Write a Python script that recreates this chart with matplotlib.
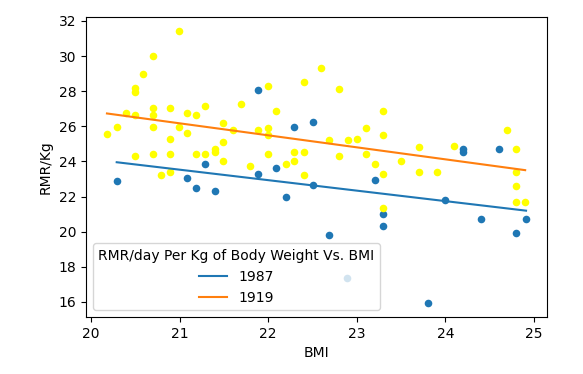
import matplotlib
matplotlib.use("Agg")
import matplotlib.pyplot as plt
import numpy as np

# 1987 data (blue)
bmi_1987 = [20.29, 21.08, 21.19, 21.29, 21.4, 21.89, 21.89, 22.09, 22.2, 22.29,
            22.5, 22.5, 22.69, 22.89, 23.2, 23.3, 23.3, 23.8, 24.0, 24.2,
            24.2, 24.4, 24.6, 24.8, 24.91]
rmr_1987 = [22.9, 23.06, 22.51, 23.86, 22.29, 28.09, 23.29, 23.62, 21.96, 25.96,
            26.27, 22.66, 19.83, 17.36, 22.96, 21.0, 20.3, 15.92, 21.8, 24.71,
            24.52, 20.7, 24.71, 19.94, 20.7]

# 1919 data (yellow)
bmi_1919 = [20.18, 20.29, 20.39, 20.5, 20.5, 20.5, 20.5, 20.59, 20.7, 20.7,
            20.7, 20.7, 20.7, 20.79, 20.89, 20.89, 20.89, 20.89, 20.99, 20.99,
            21.08, 21.08, 21.19, 21.19, 21.29, 21.29, 21.4, 21.4, 21.49, 21.49,
            21.49, 21.6, 21.69, 21.79, 21.89, 22.0, 22.0, 22.0, 22.0, 22.09,
            22.2, 22.29, 22.29, 22.4, 22.4, 22.4, 22.6, 22.69, 22.8, 22.8,
            22.9, 23.0, 23.1, 23.1, 23.2, 23.3, 23.3, 23.3, 23.3, 23.5,
            23.7, 23.7, 23.9, 24.1, 24.7, 24.8, 24.8, 24.8, 24.8, 24.9]
rmr_1919 = [25.55, 25.95, 26.75, 28.2, 27.95, 26.65, 24.3, 29.0, 30.0, 27.05,
            26.65, 25.95, 24.4, 23.25, 27.05, 25.3, 24.4, 23.4, 31.45, 25.95,
            26.75, 25.6, 26.65, 24.4, 27.15, 24.45, 24.7, 24.55, 26.2, 25.1,
            24.0, 25.8, 27.3, 23.75, 25.8, 28.3, 25.9, 25.5, 24.45, 26.85,
            23.85, 24.55, 24.0, 28.55, 24.55, 23.25, 29.3, 25.2, 28.1, 24.3,
            25.25, 25.3, 25.9, 24.45, 23.85, 26.85, 25.5, 23.3, 21.35, 24.05,
            24.8, 23.4, 23.4, 24.9, 25.8, 24.7, 23.4, 22.6, 21.7, 21.7]

fig = plt.figure(figsize=(5.83, 3.74), dpi=100)
ax = fig.add_axes([86/583, 1-317/374, (547-86)/583, (317-17)/374])

ax.scatter(bmi_1987, rmr_1987, s=30, color="#1f77b4", linewidths=0, zorder=2)
ax.scatter(bmi_1919, rmr_1919, s=30, color="yellow", linewidths=0, zorder=2)

for xs, ys, lab, col in [(bmi_1987, rmr_1987, "1987", "C0"), (bmi_1919, rmr_1919, "1919", "C1")]:
    xs = np.array(xs); ys = np.array(ys)
    m, b = np.polyfit(xs, ys, 1)
    xl = np.array([xs.min(), xs.max()])
    ax.plot(xl, m*xl + b, color=col, label=lab, zorder=3)

ax.set_xlabel("BMI")
ax.set_ylabel("RMR/Kg")
ax.set_xticks([20, 21, 22, 23, 24, 25])
ax.set_yticks([16, 18, 20, 22, 24, 26, 28, 30, 32])
ax.legend(title="RMR/day Per Kg of Body Weight Vs. BMI", loc="lower left")

fig.savefig("out.png", dpi=100)
